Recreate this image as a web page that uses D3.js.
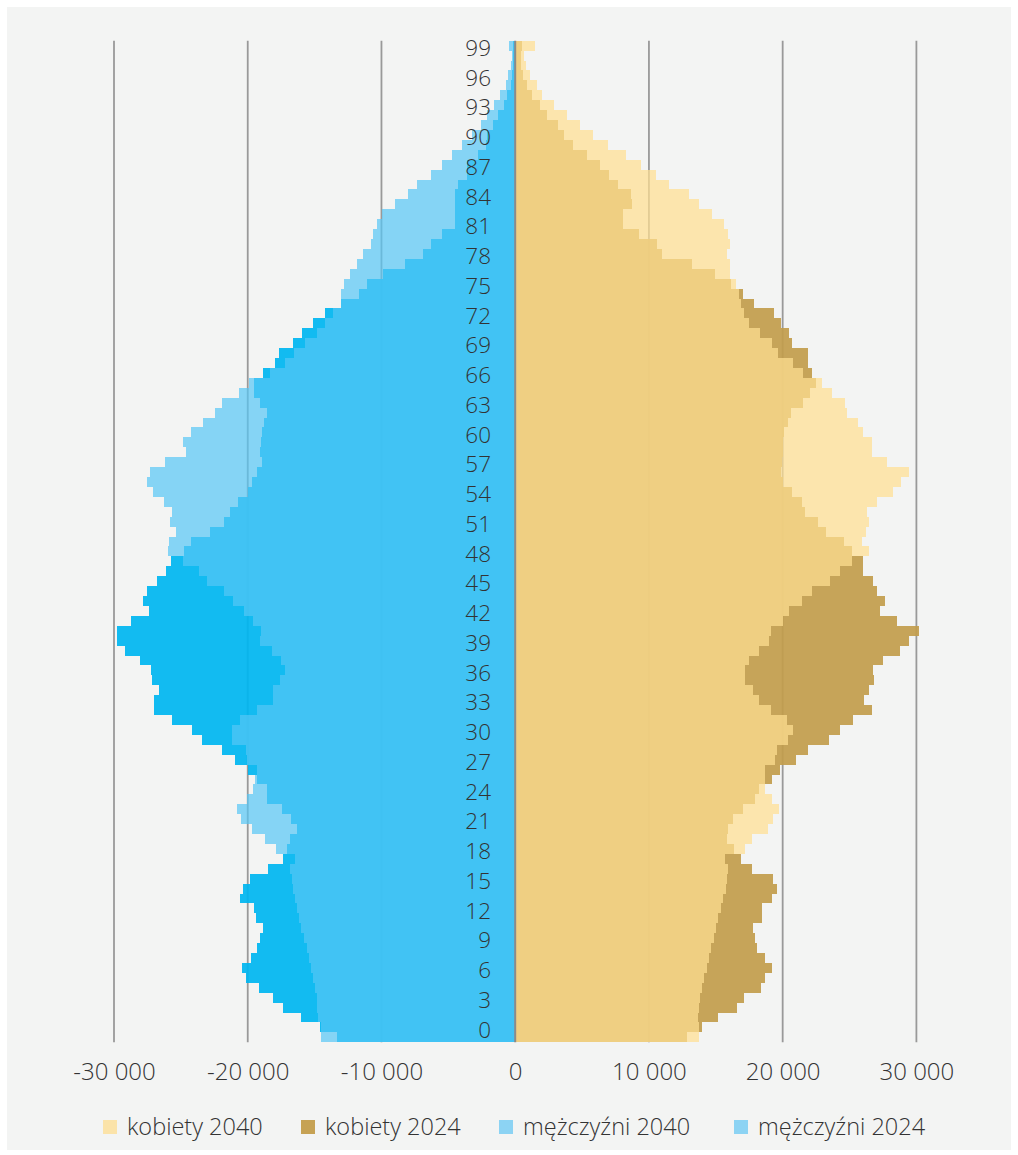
<!DOCTYPE html>
<html><head><meta charset="utf-8">
<script src="https://cdn.jsdelivr.net/npm/d3@7"></script>
<style>
html,body{margin:0;padding:0;background:#fff;}
svg{display:block;}
text{font-family:"Open Sans", sans-serif;}
</style></head><body>
<svg id="chart" width="1018" height="1155"></svg>
<script>
// ages 0..100 (100 = 100+)
const ages = [0,1,2,3,4,5,6,7,8,9,10,11,12,13,14,15,16,17,18,19,20,21,22,23,24,25,26,27,28,29,30,31,32,33,34,35,36,37,38,39,40,41,42,43,44,45,46,47,48,49,50,51,52,53,54,55,56,57,58,59,60,61,62,63,64,65,66,67,68,69,70,71,72,73,74,75,76,77,78,79,80,81,82,83,84,85,86,87,88,89,90,91,92,93,94,95,96,97,98,99,100];

const women2024 = [12820,13940,15190,16560,17100,18350,18700,19220,18700,18100,17930,17750,18480,18480,19170,19550,19250,17680,16860,16360,15810,15880,16260,17060,17930,18250,19180,19800,20970,21910,23460,24280,25280,26680,26100,26450,26830,26730,27480,28770,29470,30220,28570,27280,27650,27030,26780,25980,25980,25150,24600,23210,22660,21670,21440,20670,20050,19840,19920,20050,20050,20100,20420,20620,21540,22040,22490,22160,21860,21860,20670,20490,19870,19320,17880,17060,16130,14940,13220,10980,10580,9280,8084,8084,8760,8630,7690,6990,6310,5370,4320,3670,3180,2350,1850,1260,910,610,430,410,533];

const women2040 = [13720,13770,13690,13740,13810,13940,14110,14310,14490,14640,14860,15010,15190,15380,15560,15760,15810,15930,15680,17160,17700,18930,19300,19700,19170,18680,18680,18680,19420,19550,20370,20790,20300,19120,18250,17800,17180,17180,17480,18230,19000,19120,20050,20470,21440,22190,23530,24280,25150,26450,25930,26230,26450,26330,27070,28270,28820,29440,27770,26670,26670,25980,25600,24780,24630,23690,22910,21540,20790,19670,19200,18330,17480,17130,16880,16710,16480,16060,16060,15810,16060,15880,15635,14740,13740,12990,11500,10500,9380,8260,6910,5790,4840,3900,2930,2000,1600,1110,780,660,1480];

const men2024 = [13300,14600,15990,17330,18130,19170,20150,20450,19750,19280,19080,18830,19400,19500,20570,20370,19830,18460,17330,17090,16840,16340,16790,17460,18530,18530,19280,20000,20950,21890,23390,24190,25680,27000,27000,26600,27170,27250,28050,29170,29800,29750,28750,27350,27850,27500,26800,26130,25730,24760,24260,22820,21770,21330,20700,20000,19660,19330,18950,19080,19000,18900,18780,18580,19080,19530,19530,18830,17960,17660,16640,15910,15090,14190,13050,11680,11110,9910,8240,6870,6320,5500,4500,4500,4500,4500,4250,3630,3580,2760,2180,2130,1680,1260,810,590,340,240,190,150,140];

const men2040 = [14540,14550,14720,14790,14840,14970,15090,15270,15420,15590,15790,15990,16160,16340,16460,16630,16710,16840,16460,17900,18700,19650,20520,20770,20070,19580,19450,19330,20070,20120,21200,21200,20570,19330,18080,18080,17580,17180,17530,18160,19080,19020,19620,20270,21120,21810,23060,23640,24810,25930,25880,25360,25810,25680,26250,27120,27500,27300,26180,24640,24810,24260,23320,22440,21890,20650,19900,18330,17210,16540,15720,14790,14190,13650,13050,13050,12800,12350,11800,11350,10800,10600,10300,9930,8990,7990,7370,6320,5500,4750,4000,3250,2580,2080,1580,1140,690,510,340,250,440];

const xTickValues = [-30000,-20000,-10000,0,10000,20000,30000];
const ageTickValues = [0,3,6,9,12,15,18,21,24,27,30,33,36,39,42,45,48,51,54,57,60,63,66,69,72,75,78,81,84,87,90,93,96,99];
const legendNames = ["kobiety 2040","kobiety 2024","mężczyźni 2040","mężczyźni 2024"];
const legendColors = ["#fbe3a9","#c6a254","#8cd3f3","#8cd3f3"];

const svg = d3.select("#chart");
svg.append("rect").attr("x",7).attr("y",7).attr("width",1004).attr("height",1143).attr("fill","#f3f4f3");

const x = d3.scaleLinear().domain([-30000,30000]).range([114,916.4]);
const y = d3.scaleBand().domain(ages.slice().reverse()).range([40.7,1042.3]).padding(0);
const yTop = 40.7, yBot = 1042.3;

// grid
svg.append("g").selectAll("line").data(xTickValues.filter(d=>d!==0)).join("line")
  .attr("x1",d=>x(d)).attr("x2",d=>x(d)).attr("y1",yTop).attr("y2",yBot)
  .attr("stroke","#999").attr("stroke-width",1.8);

function drawSeries(vals, side, color, op){
  const g = svg.append("g").attr("shape-rendering","crispEdges");
  g.selectAll("rect").data(ages).join("rect")
    .attr("x", a => side<0 ? x(-vals[a]) : x(0))
    .attr("width", a => side<0 ? x(0)-x(-vals[a]) : x(vals[a])-x(0))
    .attr("y", a => y(a)).attr("height", y.bandwidth())
    .attr("fill", color).attr("fill-opacity", op);
}
drawSeries(women2024, 1, "#c29d4c", 0.93);
drawSeries(men2024, -1, "#00b6f0", 0.93);
drawSeries(women2040, 1, "#ffdf92", 0.72);
drawSeries(men2040, -1, "#55c6f5", 0.70);

// zero line
svg.append("line").attr("x1",x(0)).attr("x2",x(0)).attr("y1",yTop).attr("y2",yBot)
  .attr("stroke","#8a8a8a").attr("stroke-width",2);

// x axis labels
const loc = d3.formatLocale({decimal:",",thousands:" ",grouping:[3],currency:["",""],minus:"-"});
const fmt = loc.format(",d");
const xAxis = svg.append("g").attr("transform",`translate(0,${yBot})`)
  .call(d3.axisBottom(x).tickValues(xTickValues).tickFormat(fmt).tickSize(0).tickPadding(21));
xAxis.select(".domain").remove();
xAxis.selectAll("text").attr("font-size",24).attr("font-weight",300).attr("fill","#333").attr("font-family","'Open Sans', sans-serif");

// age labels
const ageLabel = d3.scaleLinear().domain([0,99]).range([y(0)-2.4, y(99)-2.4]);
const yAxis = svg.append("g").attr("transform","translate(491,0)")
  .call(d3.axisLeft(ageLabel).tickValues(ageTickValues).tickFormat(d3.format("d")).tickSize(0).tickPadding(0));
yAxis.select(".domain").remove();
yAxis.selectAll("text").attr("font-size",22.5).attr("font-weight",300).attr("fill","#333").attr("font-family","'Open Sans', sans-serif");

// legend
const legendX = [103, 301, 499, 734];
const lg = svg.append("g").selectAll("g").data(legendNames).join("g")
  .attr("transform",(d,i)=>`translate(${legendX[i]},1127)`);
lg.append("rect").attr("x",0).attr("y",-7).attr("width",14).attr("height",14).attr("fill",(d,i)=>legendColors[i]);
lg.append("text").attr("x",24).attr("dy","0.35em").attr("font-size",23.5).attr("font-weight",300).attr("fill","#333").text(d=>d);
</script>
</body></html>
